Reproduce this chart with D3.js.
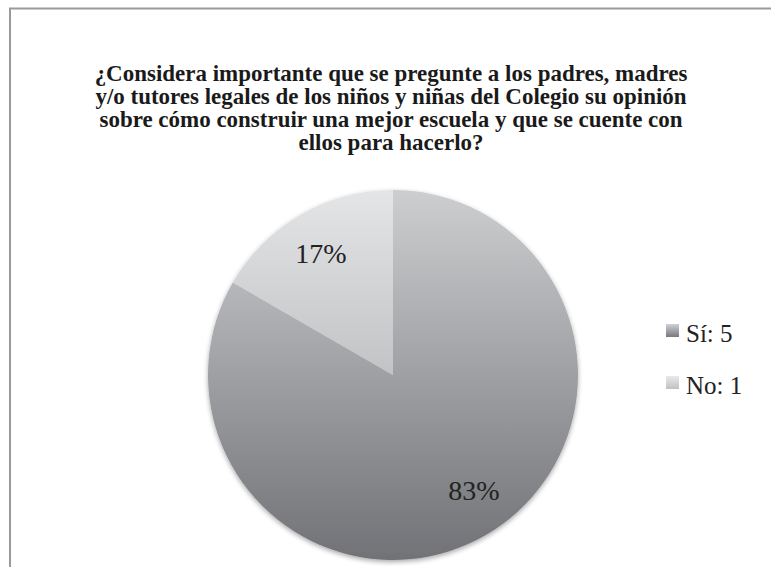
<!DOCTYPE html>
<html><head><meta charset="utf-8">
<script src="https://cdn.jsdelivr.net/npm/d3@7"></script>
<style>html,body{margin:0;padding:0;background:#fff;}</style>
</head><body>
<svg id="chart" width="771" height="567"></svg>
<script>
const categories = ["Sí", "No"];
const values = [5, 1];
const percentLabels = ["83%", "17%"];
const titleLines = [
  "¿Considera importante que se pregunte a los padres, madres",
  "y/o tutores legales de los niños y niñas del Colegio su opinión",
  "sobre cómo construir una mejor escuela y que se cuente con",
  "ellos para hacerlo?"
];

const svg = d3.select("#chart");
const cx = 393, cy = 375, R = 185;
const serif = "'Liberation Serif', 'Times New Roman', serif";

// frame
svg.append("rect").attr("x", 10).attr("y", 8.5).attr("width", 800).attr("height", 600)
  .attr("fill", "#fff").attr("stroke", "#9a9a9a").attr("stroke-width", 2);

const defs = svg.append("defs");
const grads = [
  {id: "gSi", y1: -R, y2: R, c1: "#cdced0", c2: "#717276"},
  {id: "gNo", y1: -R, y2: 0, c1: "#e4e5e7", c2: "#c2c3c5"}
];
grads.forEach(g => {
  const lg = defs.append("linearGradient").attr("id", g.id)
    .attr("gradientUnits", "userSpaceOnUse").attr("x1", 0).attr("x2", 0)
    .attr("y1", g.y1).attr("y2", g.y2);
  lg.append("stop").attr("offset", 0).attr("stop-color", g.c1);
  lg.append("stop").attr("offset", 1).attr("stop-color", g.c2);
});
const lgGrads = [["lgSi", "#d0d1d3", "#77787c"], ["lgNo", "#e8e9eb", "#c0c1c3"]];
lgGrads.forEach(([id, a, b]) => {
  const lg = defs.append("linearGradient").attr("id", id).attr("x1", 0).attr("x2", 0).attr("y1", 0).attr("y2", 1);
  lg.append("stop").attr("offset", 0).attr("stop-color", a);
  lg.append("stop").attr("offset", 1).attr("stop-color", b);
});
const f = defs.append("filter").attr("id", "shadow").attr("x", "-10%").attr("y", "-10%").attr("width", "120%").attr("height", "120%");
f.append("feGaussianBlur").attr("in", "SourceAlpha").attr("stdDeviation", 2.5).attr("result", "b");
f.append("feOffset").attr("in", "b").attr("dx", 0).attr("dy", 2).attr("result", "o");
f.append("feComponentTransfer").attr("in", "o").attr("result", "o2")
  .append("feFuncA").attr("type", "linear").attr("slope", 0.35);
const m = f.append("feMerge");
m.append("feMergeNode").attr("in", "o2");
m.append("feMergeNode").attr("in", "SourceGraphic");

// title
const title = svg.append("g");
titleLines.forEach((t, i) => {
  title.append("text").attr("x", 391).attr("y", 81 + i * 23)
    .attr("text-anchor", "middle").attr("font-family", serif)
    .attr("font-weight", "bold").attr("font-size", 19).attr("fill", "#1a1a1a")
    .text(t);
});
const first = title.select("text").node();
const w0 = first.getComputedTextLength();
const fs = Math.max(15, Math.min(23, 19 * 593 / w0));
title.selectAll("text").attr("font-size", fs);

// pie
const data = categories.map((c, i) => ({cat: c, value: values[i], label: percentLabels[i], grad: i === 0 ? "gSi" : "gNo"}));
const pie = d3.pie().value(d => d.value).sort(null);
const arc = d3.arc().innerRadius(0).outerRadius(R);
const arcs = pie(data);
const pg = svg.append("g").attr("transform", `translate(${cx},${cy})`);
pg.append("g").attr("filter", "url(#shadow)")
  .selectAll("path").data(arcs).join("path")
  .attr("d", arc)
  .attr("fill", d => `url(#${d.data.grad})`);

const labelPos = [[81, 125], [-72, -112]];
pg.selectAll("text.pl").data(arcs).join("text").attr("class", "pl")
  .attr("x", (d, i) => labelPos[i][0])
  .attr("y", (d, i) => labelPos[i][1])
  .attr("text-anchor", "middle").attr("font-family", serif)
  .attr("font-size", 28).attr("fill", "#222")
  .text(d => d.data.label);

// legend
const lg = svg.append("g");
data.forEach((d, i) => {
  const y = 324 + i * 52;
  lg.append("rect").attr("x", 666).attr("y", y).attr("width", 13).attr("height", 13)
    .attr("fill", `url(#${i === 0 ? "lgSi" : "lgNo"})`);
  lg.append("text").attr("x", 686).attr("y", y + 18)
    .attr("font-family", serif).attr("font-size", 25).attr("fill", "#222")
    .text(`${d.cat}: ${d.value}`);
});
</script>
</body></html>
